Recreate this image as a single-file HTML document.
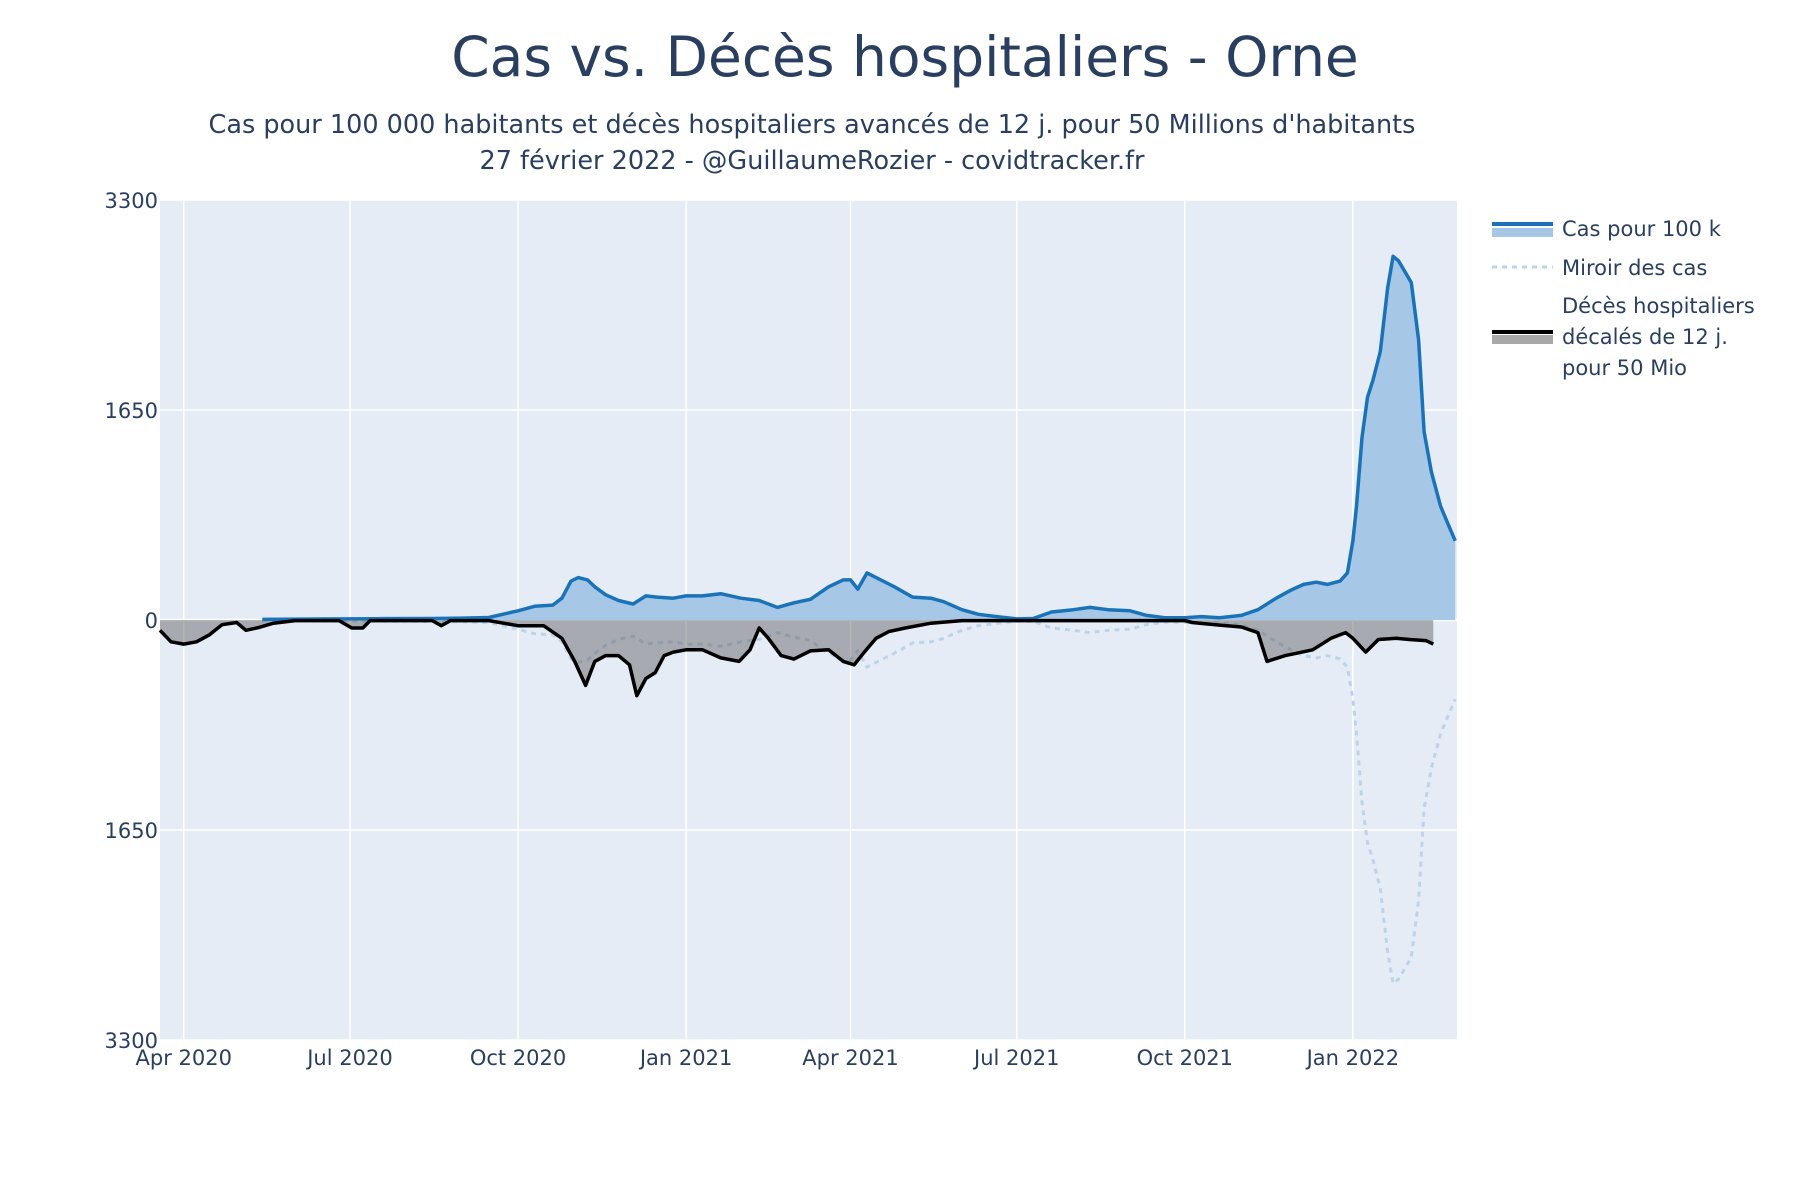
<!DOCTYPE html>
<html><head><meta charset="utf-8"><style>
body{margin:0;background:#fff;}
svg{display:block;font-family:"DejaVu Sans","Liberation Sans",sans-serif;}
</style></head><body>
<svg id="chart" width="1800" height="1200" viewBox="0 0 1800 1200" xmlns="http://www.w3.org/2000/svg">
<text x="905" y="76" font-size="55" fill="#2a3f5f" text-anchor="middle">Cas vs. Décès hospitaliers - Orne</text>
<text x="812" y="133" font-size="25.5" fill="#2a3f5f" text-anchor="middle">Cas pour 100 000 habitants et décès hospitaliers avancés de 12 j. pour 50 Millions d'habitants</text>
<text x="812" y="169" font-size="25.5" fill="#2a3f5f" text-anchor="middle">27 février 2022 - @GuillaumeRozier - covidtracker.fr</text>
<rect x="160" y="200" width="1297" height="840" fill="#e5ecf6"/>
<g id="grid"></g><g id="marks"></g><g id="axes"></g>
<g transform="translate(-8,-2)">
<rect x="1500" y="230" width="61" height="9" fill="#a6c8e6"/>
<line x1="1500" y1="226" x2="1561" y2="226" stroke="#1a73b8" stroke-width="4"/>
<text x="1570" y="238" font-size="21" fill="#2a3f5f">Cas pour 100 k</text>
<line x1="1500" y1="269" x2="1561" y2="269" stroke="#bcd4ea" stroke-width="3" stroke-dasharray="5,5"/>
<text x="1570" y="277" font-size="21" fill="#2a3f5f">Miroir des cas</text>
<rect x="1500" y="337" width="61" height="9" fill="#a8a8a8"/>
<line x1="1500" y1="334" x2="1561" y2="334" stroke="#000" stroke-width="4"/>
<text font-size="21" fill="#2a3f5f"><tspan x="1570" y="315">Décès hospitaliers</tspan><tspan x="1570" y="346">décalés de 12 j.</tspan><tspan x="1570" y="377">pour 50 Mio</tspan></text>
</g>
</svg>
<script>
const caseDates=["2020-05-14","2020-06-15","2020-07-15","2020-08-15","2020-09-01","2020-09-15","2020-10-01","2020-10-10","2020-10-20","2020-10-25","2020-10-30","2020-11-03","2020-11-08","2020-11-12","2020-11-18","2020-11-25","2020-12-03","2020-12-10","2020-12-16","2020-12-25","2021-01-01","2021-01-10","2021-01-20","2021-01-31","2021-02-10","2021-02-20","2021-03-01","2021-03-10","2021-03-20","2021-03-28","2021-04-01","2021-04-05","2021-04-10","2021-04-15","2021-04-25","2021-05-05","2021-05-15","2021-05-22","2021-06-01","2021-06-10","2021-06-20","2021-07-01","2021-07-10","2021-07-20","2021-08-01","2021-08-10","2021-08-20","2021-09-01","2021-09-10","2021-09-20","2021-10-01","2021-10-10","2021-10-20","2021-11-01","2021-11-10","2021-11-20","2021-11-28","2021-12-05","2021-12-12","2021-12-18","2021-12-25","2021-12-29","2022-01-01","2022-01-03","2022-01-06","2022-01-09","2022-01-12","2022-01-16","2022-01-20","2022-01-23","2022-01-26","2022-01-30","2022-02-02","2022-02-06","2022-02-09","2022-02-13","2022-02-18","2022-02-22","2022-02-26"];
const caseValues=[5,8,10,12,15,20,72,108,117,171,306,333,315,261,198,153,126,189,180,171,189,189,207,171,153,99,135,162,261,315,315,243,370,333,261,180,171,144,81,45,27,9,12,63,81,99,81,72,36,18,18,27,18,36,81,171,234,280,297,280,306,370,622,893,1434,1750,1885,2110,2606,2858,2822,2723,2651,2200,1479,1163,893,757,622];
const deathDates=["2020-03-19","2020-03-25","2020-04-01","2020-04-08","2020-04-15","2020-04-22","2020-04-30","2020-05-05","2020-05-12","2020-05-20","2020-06-01","2020-06-25","2020-07-02","2020-07-08","2020-07-12","2020-08-15","2020-08-20","2020-08-25","2020-09-15","2020-10-01","2020-10-15","2020-10-25","2020-11-01","2020-11-07","2020-11-12","2020-11-18","2020-11-25","2020-12-01","2020-12-05","2020-12-10","2020-12-15","2020-12-20","2020-12-25","2021-01-01","2021-01-10","2021-01-20","2021-01-30","2021-02-05","2021-02-10","2021-02-15","2021-02-22","2021-03-01","2021-03-10","2021-03-20","2021-03-28","2021-04-03","2021-04-08","2021-04-15","2021-04-22","2021-05-01","2021-05-15","2021-06-01","2021-10-01","2021-10-05","2021-10-20","2021-11-01","2021-11-10","2021-11-15","2021-11-25","2021-12-01","2021-12-10","2021-12-20","2021-12-28","2022-01-01","2022-01-08","2022-01-15","2022-01-25","2022-02-01","2022-02-10","2022-02-14"];
const deathValues=[81,171,189,171,117,36,20,81,60,25,5,5,63,63,5,5,45,5,5,45,45,144,325,514,325,280,280,352,595,460,415,280,252,234,234,298,325,234,63,144,280,307,243,234,325,352,262,144,90,63,25,5,5,20,40,55,99,325,280,262,234,144,99,144,252,153,144,153,162,189];
const yTicks=[3300,1650,0,-1650,-3300];
const xTickDates=["2020-04-01","2020-07-01","2020-10-01","2021-01-01","2021-04-01","2021-07-01","2021-10-01","2022-01-01"];
const xTickLabels=["Apr 2020","Jul 2020","Oct 2020","Jan 2021","Apr 2021","Jul 2021","Oct 2021","Jan 2022"];

const NS="http://www.w3.org/2000/svg";
const X0=160,X1=1457,Y0=200,Y1=1040;
const d0=Date.UTC(2020,2,19),d1=Date.UTC(2022,1,27);
function day(s){const p=s.split("-");return Date.UTC(+p[0],p[1]-1,+p[2]);}
function xs(s){return X0+(day(s)-d0)/(d1-d0)*(X1-X0);}
function ys(v){return Y0+(3300-v)/6600*(Y1-Y0);}
function mk(tag,attrs,parent){const e=document.createElementNS(NS,tag);for(const k in attrs)e.setAttribute(k,attrs[k]);parent.appendChild(e);return e;}
const grid=document.getElementById("grid"),marks=document.getElementById("marks"),axes=document.getElementById("axes");
yTicks.forEach((t,i)=>{
 const y=ys(t);
 const g=mk("line",{x1:X0,x2:X1,y1:y,y2:y,stroke:"#fff","stroke-width":t===0?2.5:1.5},grid);
 
 
 const l=mk("text",{x:X0-2,y:y+8,"font-size":21,fill:"#2a3f5f","text-anchor":"end"},axes);
 l.textContent=String(Math.abs(t));
 
 
});
xTickDates.forEach((d,i)=>{
 const x=xs(d);
 const g=mk("line",{x1:x,x2:x,y1:Y0,y2:Y1,stroke:"#fff","stroke-width":1.5},grid);
 
 
 const l=mk("text",{x:x,y:1065,"font-size":21,fill:"#2a3f5f","text-anchor":"middle"},axes);
 l.textContent=xTickLabels[i];
 
 
});
function pts(dates,vals,sign){return dates.map((d,i)=>xs(d).toFixed(1)+","+ys(sign*vals[i]).toFixed(1));}
const zero=ys(0);
const cp=pts(caseDates,caseValues,1);
const cf=mk("polygon",{points:xs(caseDates[0])+","+zero+" "+cp.join(" ")+" "+xs(caseDates[caseDates.length-1])+","+zero,fill:"#a6c8e6"},marks);


const mp=pts(caseDates,caseValues,-1);
const ml=mk("polyline",{points:mp.join(" "),fill:"none",stroke:"#bcd4ea","stroke-width":3,"stroke-dasharray":"5,5"},marks);


const dp=pts(deathDates,deathValues,-1);
const df=mk("polygon",{points:xs(deathDates[0])+","+zero+" "+dp.join(" ")+" "+xs(deathDates[deathDates.length-1])+","+zero,fill:"rgba(90,90,90,0.45)"},marks);


const cl=mk("polyline",{points:cp.join(" "),fill:"none",stroke:"#1a73b8","stroke-width":3.5,"stroke-linejoin":"round"},marks);


const dl=mk("polyline",{points:dp.join(" "),fill:"none",stroke:"#000","stroke-width":3.5,"stroke-linejoin":"round"},marks);


</script>
</body></html>
